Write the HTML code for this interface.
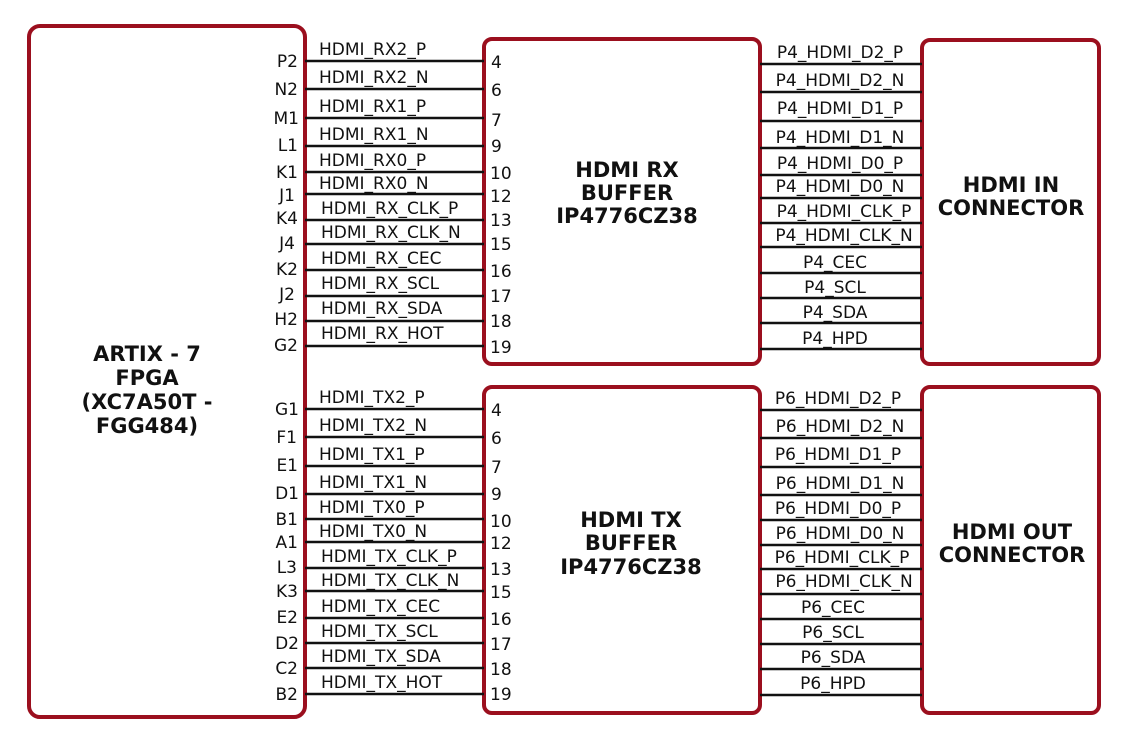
<!DOCTYPE html>
<html><head><meta charset="utf-8"><style>html,body{margin:0;padding:0;background:#fff}svg{display:block}</style></head><body>
<svg width="1132" height="746" viewBox="0 0 1132 746" xmlns="http://www.w3.org/2000/svg" font-family="DejaVu Sans, Liberation Sans, sans-serif">
<g fill="none" stroke="#9b0f1e" stroke-width="4">
<rect x="29" y="26" width="276" height="691" rx="11"/>
<rect x="484" y="39" width="276" height="325" rx="8"/>
<rect x="922" y="40" width="177" height="324" rx="8"/>
<rect x="484" y="387" width="276" height="326" rx="8"/>
<rect x="922" y="387" width="177" height="326" rx="8"/>
</g>
<g stroke="#111" stroke-width="2.5">
<line x1="305" y1="61" x2="484" y2="61"/><line x1="305" y1="89" x2="484" y2="89"/><line x1="305" y1="118" x2="484" y2="118"/><line x1="305" y1="146" x2="484" y2="146"/><line x1="305" y1="172" x2="484" y2="172"/><line x1="305" y1="194" x2="484" y2="194"/><line x1="305" y1="220" x2="484" y2="220"/><line x1="305" y1="244" x2="484" y2="244"/><line x1="305" y1="270" x2="484" y2="270"/><line x1="305" y1="296" x2="484" y2="296"/><line x1="305" y1="321" x2="484" y2="321"/><line x1="305" y1="346" x2="484" y2="346"/>
<line x1="305" y1="409" x2="484" y2="409"/><line x1="305" y1="437" x2="484" y2="437"/><line x1="305" y1="466" x2="484" y2="466"/><line x1="305" y1="494" x2="484" y2="494"/><line x1="305" y1="519" x2="484" y2="519"/><line x1="305" y1="542" x2="484" y2="542"/><line x1="305" y1="568" x2="484" y2="568"/><line x1="305" y1="591" x2="484" y2="591"/><line x1="305" y1="618" x2="484" y2="618"/><line x1="305" y1="643" x2="484" y2="643"/><line x1="305" y1="668" x2="484" y2="668"/><line x1="305" y1="694" x2="484" y2="694"/>
<line x1="760" y1="64" x2="922" y2="64"/><line x1="760" y1="92" x2="922" y2="92"/><line x1="760" y1="121" x2="922" y2="121"/><line x1="760" y1="148" x2="922" y2="148"/><line x1="760" y1="175" x2="922" y2="175"/><line x1="760" y1="198" x2="922" y2="198"/><line x1="760" y1="223" x2="922" y2="223"/><line x1="760" y1="247" x2="922" y2="247"/><line x1="760" y1="273" x2="922" y2="273"/><line x1="760" y1="298" x2="922" y2="298"/><line x1="760" y1="323" x2="922" y2="323"/><line x1="760" y1="349" x2="922" y2="349"/>
<line x1="760" y1="410" x2="922" y2="410"/><line x1="760" y1="438" x2="922" y2="438"/><line x1="760" y1="467" x2="922" y2="467"/><line x1="760" y1="495" x2="922" y2="495"/><line x1="760" y1="520" x2="922" y2="520"/><line x1="760" y1="545" x2="922" y2="545"/><line x1="760" y1="569" x2="922" y2="569"/><line x1="760" y1="594" x2="922" y2="594"/><line x1="760" y1="619" x2="922" y2="619"/><line x1="760" y1="644" x2="922" y2="644"/><line x1="760" y1="669" x2="922" y2="669"/><line x1="760" y1="695" x2="922" y2="695"/>
</g>
<g font-size="17" fill="#111" text-anchor="end">
<text x="298" y="67">P2</text><text x="298" y="95">N2</text><text x="299" y="124">M1</text><text x="298" y="151">L1</text><text x="298" y="178">K1</text><text x="295" y="201">J1</text><text x="298" y="224">K4</text><text x="295" y="249">J4</text><text x="298" y="275">K2</text><text x="295" y="300">J2</text><text x="298" y="325">H2</text><text x="298" y="351">G2</text>
<text x="299" y="415">G1</text><text x="297" y="443">F1</text><text x="298" y="471">E1</text><text x="299" y="499">D1</text><text x="298" y="525">B1</text><text x="298" y="548">A1</text><text x="297" y="573">L3</text><text x="298" y="597">K3</text><text x="298" y="623">E2</text><text x="299" y="649">D2</text><text x="298" y="674">C2</text><text x="298" y="700">B2</text>
</g>
<g font-size="17" fill="#111">
<text x="491" y="68">4</text><text x="491" y="96">6</text><text x="491" y="126">7</text><text x="491" y="152">9</text><text x="490" y="179">10</text><text x="490" y="202">12</text><text x="490" y="226">13</text><text x="490" y="250">15</text><text x="490" y="277">16</text><text x="490" y="302">17</text><text x="490" y="327">18</text><text x="490" y="353">19</text>
<text x="491" y="416">4</text><text x="491" y="444">6</text><text x="491" y="473">7</text><text x="491" y="500">9</text><text x="490" y="527">10</text><text x="490" y="549">12</text><text x="490" y="575">13</text><text x="490" y="598">15</text><text x="490" y="625">16</text><text x="490" y="650">17</text><text x="490" y="675">18</text><text x="490" y="700">19</text>
<text x="319" y="55">HDMI_RX2_P</text><text x="319" y="83">HDMI_RX2_N</text><text x="319" y="112">HDMI_RX1_P</text><text x="319" y="140">HDMI_RX1_N</text><text x="319" y="166">HDMI_RX0_P</text><text x="319" y="189">HDMI_RX0_N</text><text x="321" y="214">HDMI_RX_CLK_P</text><text x="321" y="238">HDMI_RX_CLK_N</text><text x="321" y="264">HDMI_RX_CEC</text><text x="321" y="289">HDMI_RX_SCL</text><text x="321" y="314">HDMI_RX_SDA</text><text x="321" y="339">HDMI_RX_HOT</text>
<text x="319" y="403">HDMI_TX2_P</text><text x="319" y="431">HDMI_TX2_N</text><text x="319" y="460">HDMI_TX1_P</text><text x="319" y="488">HDMI_TX1_N</text><text x="319" y="513">HDMI_TX0_P</text><text x="319" y="537">HDMI_TX0_N</text><text x="321" y="562">HDMI_TX_CLK_P</text><text x="321" y="586">HDMI_TX_CLK_N</text><text x="321" y="612">HDMI_TX_CEC</text><text x="321" y="637">HDMI_TX_SCL</text><text x="321" y="662">HDMI_TX_SDA</text><text x="321" y="688">HDMI_TX_HOT</text>
</g>
<g font-size="17" fill="#111" text-anchor="middle">
<text x="840" y="58">P4_HDMI_D2_P</text><text x="840" y="86">P4_HDMI_D2_N</text><text x="840" y="114">P4_HDMI_D1_P</text><text x="840" y="143">P4_HDMI_D1_N</text><text x="840" y="169">P4_HDMI_D0_P</text><text x="840" y="192">P4_HDMI_D0_N</text><text x="844" y="217">P4_HDMI_CLK_P</text><text x="844" y="241">P4_HDMI_CLK_N</text><text x="835" y="268">P4_CEC</text><text x="835" y="293">P4_SCL</text><text x="835" y="318">P4_SDA</text><text x="835" y="344">P4_HPD</text>
<text x="838" y="404">P6_HDMI_D2_P</text><text x="840" y="432">P6_HDMI_D2_N</text><text x="838" y="460">P6_HDMI_D1_P</text><text x="840" y="489">P6_HDMI_D1_N</text><text x="838" y="514">P6_HDMI_D0_P</text><text x="840" y="539">P6_HDMI_D0_N</text><text x="842" y="563">P6_HDMI_CLK_P</text><text x="844" y="587">P6_HDMI_CLK_N</text><text x="833" y="613">P6_CEC</text><text x="833" y="638">P6_SCL</text><text x="833" y="663">P6_SDA</text><text x="833" y="689">P6_HPD</text>
</g>
<g font-size="21" font-weight="bold" fill="#111" text-anchor="middle">
<text x="147" y="361">ARTIX - 7</text><text x="147" y="385">FPGA</text><text x="147" y="409">(XC7A50T -</text><text x="147" y="433">FGG484)</text>
<text x="627" y="177">HDMI RX</text><text x="627" y="200">BUFFER</text><text x="627" y="223">IP4776CZ38</text>
<text x="631" y="527">HDMI TX</text><text x="631" y="550">BUFFER</text><text x="631" y="574">IP4776CZ38</text>
<text x="1011" y="192">HDMI IN</text><text x="1011" y="215">CONNECTOR</text>
<text x="1012" y="539">HDMI OUT</text><text x="1012" y="562">CONNECTOR</text>
</g>
</svg>
</body></html>
